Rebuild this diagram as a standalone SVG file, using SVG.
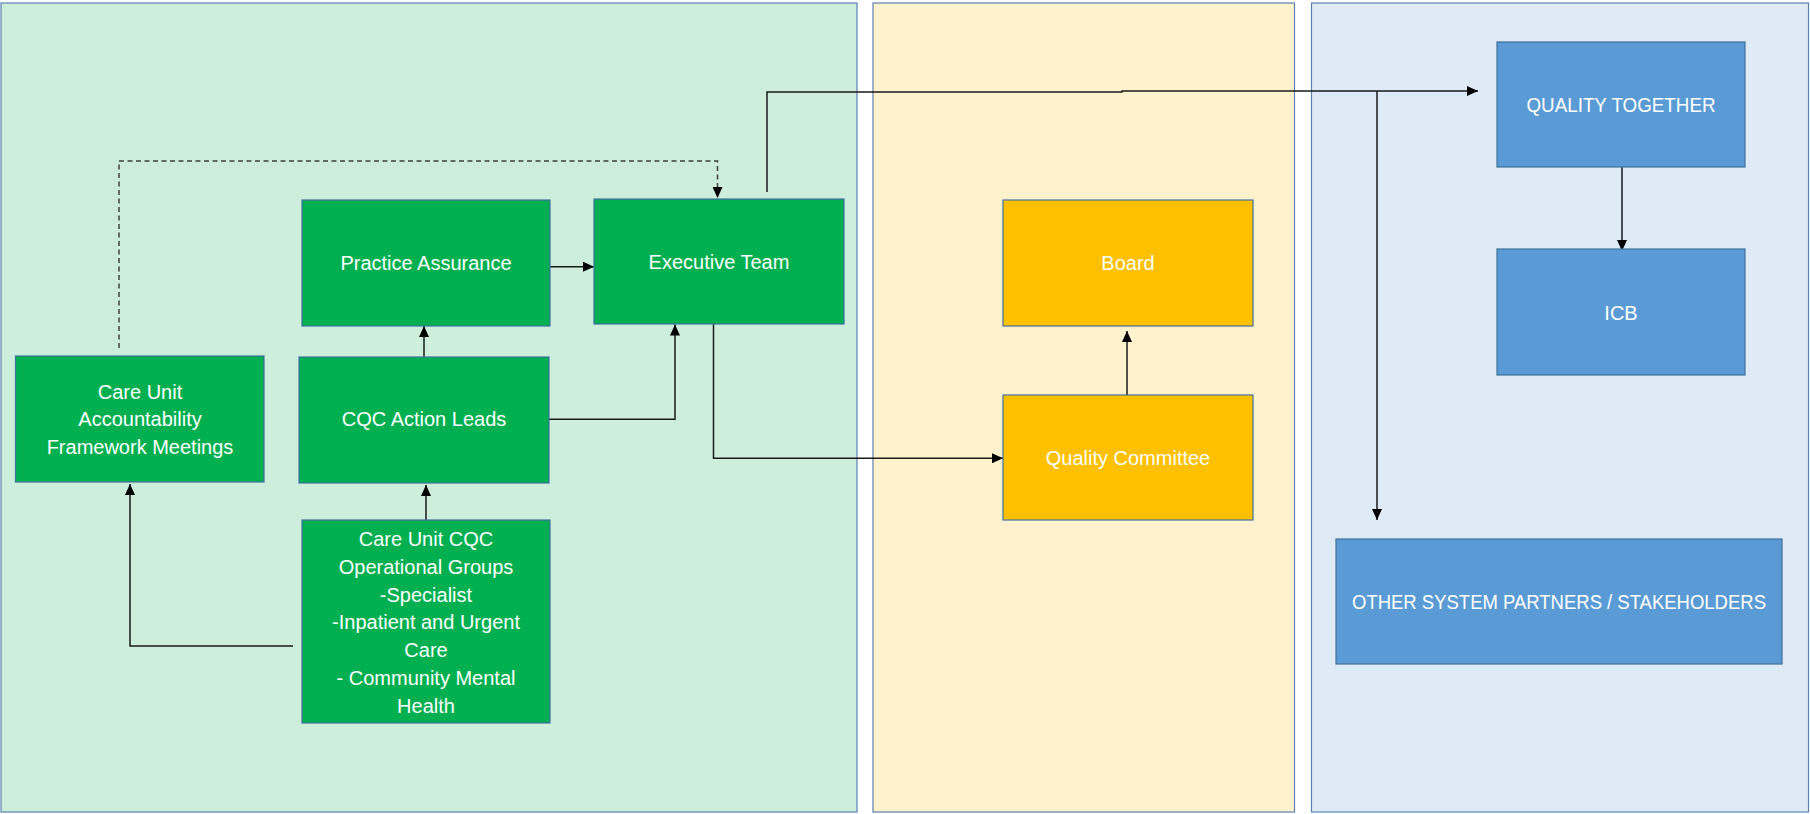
<svg xmlns="http://www.w3.org/2000/svg" width="1810" height="814" viewBox="0 0 1810 814">
<style>
.panel{stroke:#5B80B2;stroke-width:1.2}
.node{stroke:#41719C;stroke-width:1.2}
.g{fill:#00B050}
.y{fill:#FFC000}
.b{fill:#5B9BD5}
.t{font-family:"Liberation Sans",Arial,sans-serif;font-size:20px;fill:#FFFFFF;text-anchor:middle}
.c{fill:none;stroke:#1a1a1a;stroke-width:1.5}
.d{stroke-dasharray:5 3.5;stroke:#404040}
</style>
<defs>
<marker id="ah" markerUnits="userSpaceOnUse" markerWidth="11" markerHeight="10" refX="11" refY="5" orient="auto">
<path d="M0,0 L11,5 L0,10 z" fill="#000"/>
</marker>
</defs>
<rect x="0" y="0" width="1810" height="814" fill="#FFFFFF"/>
<g id="panels">
<rect class="panel" x="1" y="3" width="856" height="809" fill="#CCEEDB"/>
<rect class="panel" x="873" y="3" width="421.5" height="809" fill="#FFF2CC"/>
<rect class="panel" x="1311.5" y="3" width="497" height="809" fill="#DEEAF6"/>
</g>
<g id="connectors">
<path class="c d" d="M119,348 V161 H717.5 V198" marker-end="url(#ah)"/>
<path class="c" d="M550,266.7 H594" marker-end="url(#ah)"/>
<path class="c" d="M424,360 V326" marker-end="url(#ah)"/>
<path class="c" d="M549,419.3 H675 V324.5" marker-end="url(#ah)"/>
<path class="c" d="M713.5,324 V458.3 H1003" marker-end="url(#ah)"/>
<path class="c" d="M767,192 V92 H1122 V91 H1478" marker-end="url(#ah)"/>
<path class="c" d="M1377,91 V520" marker-end="url(#ah)"/>
<path class="c" d="M1622,163 V251" marker-end="url(#ah)"/>
<path class="c" d="M1127,395 V331" marker-end="url(#ah)"/>
<path class="c" d="M293,646 H130 V484" marker-end="url(#ah)"/>
<path class="c" d="M426,520 V485" marker-end="url(#ah)"/>
</g>
<g id="care-unit-accountability">
<rect class="node g" x="15.5" y="356" width="248.5" height="126"/>
<text class="t" x="140" y="398.7">Care Unit<tspan x="140" dy="27.7">Accountability</tspan><tspan x="140" dy="27.7">Framework Meetings</tspan></text>
</g>
<g id="practice-assurance">
<rect class="node g" x="302" y="200" width="248" height="126"/>
<text class="t" x="426" y="270">Practice Assurance</text>
</g>
<g id="executive-team">
<rect class="node g" x="594" y="199" width="250" height="125"/>
<text class="t" x="719" y="269">Executive Team</text>
</g>
<g id="cqc-action-leads">
<rect class="node g" x="299" y="357" width="250" height="126"/>
<text class="t" x="424" y="426">CQC Action Leads</text>
</g>
<g id="care-unit-cqc">
<rect class="node g" x="302" y="520" width="248" height="203"/>
<text class="t" x="426" y="546.3">Care Unit CQC<tspan x="426" dy="27.7">Operational Groups</tspan><tspan x="426" dy="27.7">-Specialist</tspan><tspan x="426" dy="27.7">-Inpatient and Urgent</tspan><tspan x="426" dy="27.7">Care</tspan><tspan x="426" dy="27.7">- Community Mental</tspan><tspan x="426" dy="27.7">Health</tspan></text>
</g>
<g id="board">
<rect class="node y" x="1003" y="200" width="250" height="126"/>
<text class="t" x="1128" y="270">Board</text>
</g>
<g id="quality-committee">
<rect class="node y" x="1003" y="395" width="250" height="125"/>
<text class="t" x="1128" y="465">Quality Committee</text>
</g>
<g id="quality-together">
<rect class="node b" x="1497" y="42" width="248" height="125"/>
<text class="t" x="1621" y="112" textLength="189" lengthAdjust="spacingAndGlyphs">QUALITY TOGETHER</text>
</g>
<g id="icb">
<rect class="node b" x="1497" y="249" width="248" height="126"/>
<text class="t" x="1621" y="319.7">ICB</text>
</g>
<g id="other-partners">
<rect class="node b" x="1336" y="539" width="446" height="125"/>
<text class="t" x="1559" y="608.7" textLength="414" lengthAdjust="spacingAndGlyphs">OTHER SYSTEM PARTNERS / STAKEHOLDERS</text>
</g>
</svg>
